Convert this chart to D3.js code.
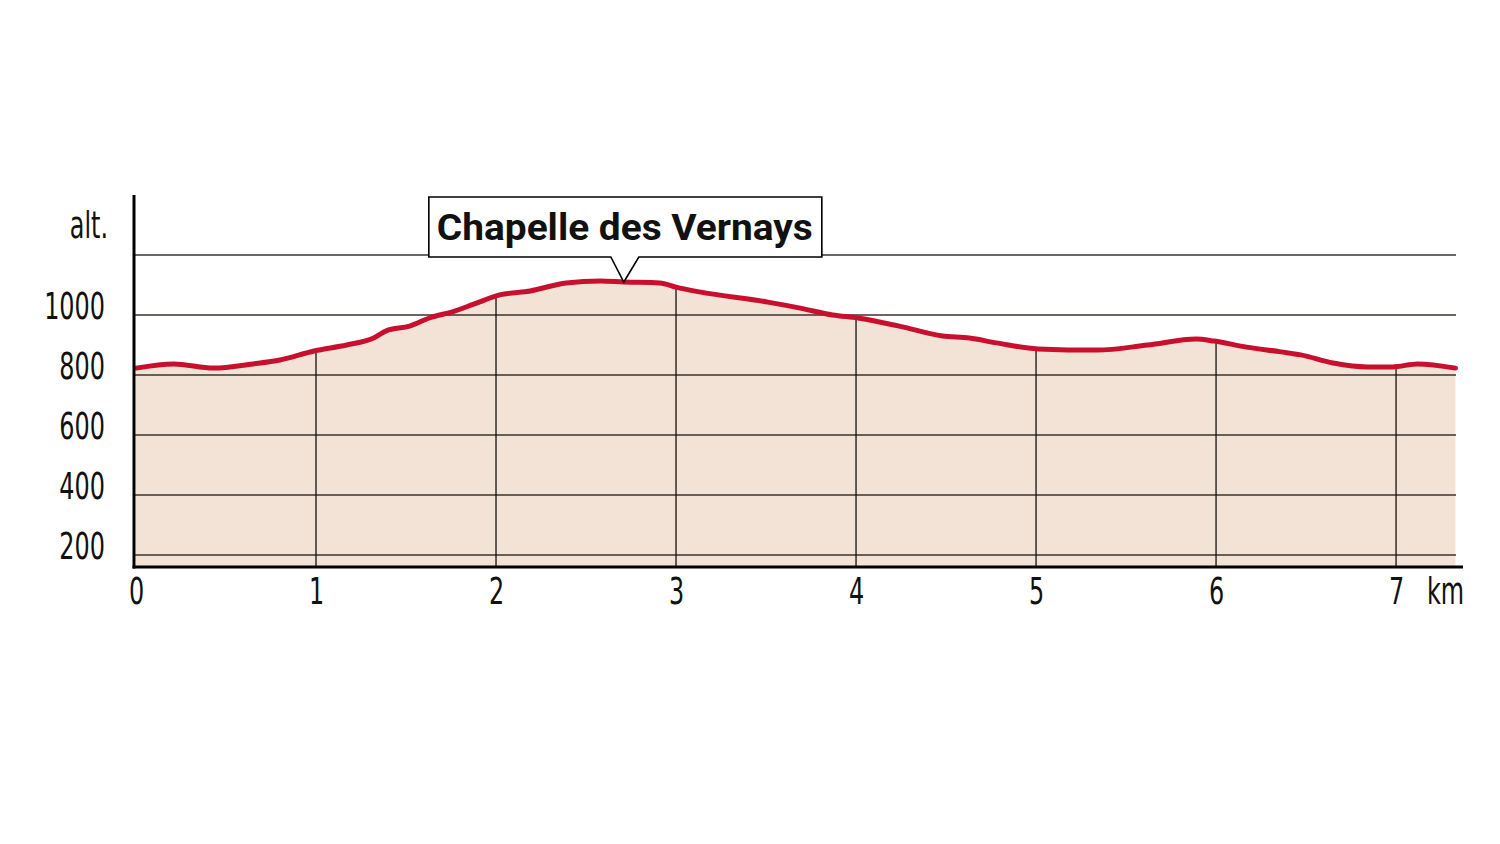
<!DOCTYPE html>
<html>
<head>
<meta charset="utf-8">
<script src="https://cdn.jsdelivr.net/npm/d3@7"></script>
<style>
  html, body { margin: 0; padding: 0; background: #ffffff; }
  svg { display: block; }
  .num { font-family: "Liberation Sans Narrow", "DejaVu Sans Condensed", "Arial Narrow", sans-serif; fill: #111; }
</style>
</head>
<body>
<svg id="chart" width="1500" height="844"></svg>
<script>
// ---- data ----
const distanceKm = [0.00, 0.21, 0.43, 0.65, 0.80, 0.99, 1.17, 1.32, 1.39, 1.52, 1.63, 1.77, 1.88, 2.02, 2.19, 2.39, 2.58, 2.71, 2.91, 3.00, 3.13, 3.51, 3.69, 3.87, 4.01, 4.24, 4.48, 4.63, 4.78, 5.01, 5.34, 5.62, 5.89, 5.99, 6.17, 6.36, 6.47, 6.65, 6.84, 6.98, 7.12, 7.33];
const elevationM = [823, 837, 823, 837, 850, 880, 900, 923, 947, 963, 990, 1013, 1037, 1067, 1080, 1107, 1113, 1110, 1107, 1093, 1077, 1043, 1023, 1000, 990, 963, 930, 923, 907, 887, 883, 900, 920, 913, 893, 877, 867, 840, 827, 827, 837, 823];
const yTickLabels = [200, 400, 600, 800, 1000];
const gridLevels = [200, 400, 600, 800, 1000, 1200];
const xTickLabels = [0, 1, 2, 3, 4, 5, 6, 7];
const xGridKm = [1, 2, 3, 4, 5, 6, 7];
const yAxisTitle = "alt.";
const xAxisUnit = "km";
const annotationText = "Chapelle des Vernays";
const annotationKm = 2.71;
const annotationElev = 1110;

// ---- scales ----
const svg = d3.select("#chart");
const x = d3.scaleLinear().domain([0, 7.333]).range([136, 1456]);
const y = d3.scaleLinear().domain([160, 1400]).range([567, 195]);
const pts = distanceKm.map((d, i) => [d, elevationM[i]]);
const SX = 0.7;

const area = d3.area().x(d => x(d[0])).y0(y(160)).y1(d => y(d[1])).curve(d3.curveMonotoneX);
const line = d3.line().x(d => x(d[0])).y(d => y(d[1])).curve(d3.curveMonotoneX);

// clip for vertical grid
svg.append("defs").append("clipPath").attr("id", "under")
  .append("path").attr("d", area(pts));

// fill
svg.append("path").attr("d", area(pts)).attr("fill", "#f3e3d6");

// horizontal grid
svg.append("g").selectAll("line").data(gridLevels).join("line")
  .attr("x1", 133).attr("x2", x(7.333))
  .attr("y1", d => y(d)).attr("y2", d => y(d))
  .attr("stroke", "#3a332d").attr("stroke-width", 1.5);

// vertical grid (only under curve)
svg.append("g").attr("clip-path", "url(#under)").selectAll("line").data(xGridKm).join("line")
  .attr("x1", d => x(d)).attr("x2", d => x(d))
  .attr("y1", y(1400)).attr("y2", y(160))
  .attr("stroke", "#111").attr("stroke-width", 1.3);

// profile line
svg.append("path").attr("d", line(pts)).attr("fill", "none")
  .attr("stroke", "#c8102e").attr("stroke-width", 5)
  .attr("stroke-linejoin", "round").attr("stroke-linecap", "round");

// axes lines
svg.append("line").attr("x1", 134).attr("x2", 134).attr("y1", y(1400)).attr("y2", y(160) + 1.5)
  .attr("stroke", "#000").attr("stroke-width", 3);
svg.append("line").attr("x1", 132.5).attr("x2", 1463).attr("y1", y(160)).attr("y2", y(160))
  .attr("stroke", "#000").attr("stroke-width", 3);

// y axis labels
const yAxis = d3.axisLeft(y).tickValues(yTickLabels).tickSize(0).tickPadding(0).tickFormat(d3.format("d"));
const gy = svg.append("g").attr("transform", "translate(105,0)").call(yAxis);
gy.select(".domain").remove();
gy.selectAll("text").attr("class", "num").attr("x", 0).attr("dy", 3)
  .attr("font-size", 38).attr("text-anchor", "end")
  .attr("transform", `scale(${SX},1)`)
  .style("fill", "#111");
gy.attr("font-family", null).attr("font-size", null);

// y title
svg.append("text").attr("class", "num").attr("font-size", 38).attr("text-anchor", "end")
  .attr("transform", `translate(108,238) scale(${SX},1)`).text(yAxisTitle);

// x axis labels
const xAxis = d3.axisBottom(x).tickValues(xTickLabels).tickSize(0).tickPadding(0).tickFormat(d3.format("d"));
const gx = svg.append("g").attr("transform", "translate(0,604)").call(xAxis);
gx.select(".domain").remove();
gx.selectAll(".tick text").attr("class", "num").attr("y", 0).attr("dy", 0)
  .attr("font-size", 38).attr("text-anchor", "middle")
  .attr("transform", `scale(${SX},1)`).style("fill", "#111");
gx.attr("font-family", null).attr("font-size", null);
svg.append("text").attr("class", "num").attr("font-size", 38).attr("text-anchor", "start")
  .attr("transform", `translate(1427,604) scale(${SX},1)`).text(xAxisUnit);

// annotation callout
const tx = x(annotationKm), ty = y(annotationElev);
const bx0 = tx - 195, bx1 = tx + 198, by0 = ty - 85, by1 = ty - 25;
svg.append("path")
  .attr("d", `M${bx0},${by0} H${bx1} V${by1} H${tx + 15} L${tx},${ty} L${tx - 13},${by1} H${bx0} Z`)
  .attr("fill", "#fff").attr("stroke", "#000").attr("stroke-width", 1.6).attr("stroke-linejoin", "miter");
svg.append("text").attr("x", bx0 + 8).attr("y", by1 - 17)
  .attr("font-family", "Roboto, 'DejaVu Sans', sans-serif").attr("font-weight", "bold")
  .attr("font-size", 37).attr("fill", "#111")
  .attr("textLength", 376).attr("lengthAdjust", "spacingAndGlyphs")
  .text(annotationText);
</script>
</body>
</html>
